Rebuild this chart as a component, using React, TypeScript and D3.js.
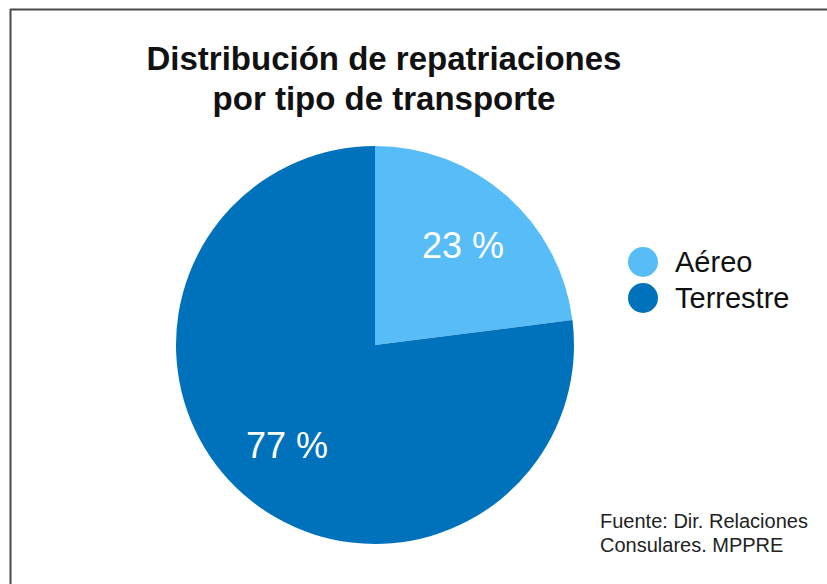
import React from "react";
import * as d3 from "d3";

const categories = ["Aéreo", "Terrestre"];
const values = [23, 77];
const labels = ["23 %", "77 %"];
const colors = ["#58BDF6", "#0072BC"];
const titleLines = ["Distribución de repatriaciones", "por tipo de transporte"];
const sourceLines = ["Fuente: Dir. Relaciones", "Consulares. MPPRE"];

const W = 827;
const H = 584;
const cx = 375;
const cy = 345;
const R = 199;

export default function App() {
  const data = categories.map((c, i) => ({ c, v: values[i], label: labels[i], color: colors[i] }));
  const pie = d3.pie<any>().sort(null).value((d) => d.v);
  const arcs = pie(data);
  const arc = d3.arc<any>().innerRadius(0).outerRadius(R);
  const labelArc = d3.arc<any>().innerRadius(133).outerRadius(133);
  const font = "'Liberation Sans', Arial, sans-serif";

  return (
    <svg
      width={W}
      height={H}
      viewBox={`0 0 ${W} ${H}`}
      style={{ position: "absolute", left: 0, top: 0, background: "#fff" }}
    >
      <rect x={0} y={0} width={W} height={H} fill="#fff" />
      <line x1={10.5} y1={9} x2={10.5} y2={H} stroke="#4a4a4a" strokeWidth={2} />
      <line x1={10} y1={9.5} x2={W} y2={9.5} stroke="#4a4a4a" strokeWidth={2} />
      {titleLines.map((t, i) => (
        <text
          key={t}
          x={384}
          y={70 + i * 40}
          textAnchor="middle"
          fontFamily={font}
          fontWeight="bold"
          fontSize={33}
          fill="#111"
        >
          {t}
        </text>
      ))}
      <g transform={`translate(${cx},${cy})`}>
        {arcs.map((a, i) => (
          <path key={i} d={arc(a) as string} fill={a.data.color} />
        ))}
        {arcs.map((a, i) => {
          const [x, y] = labelArc.centroid(a);
          return (
            <text
              key={"l" + i}
              x={x}
              y={y}
              dy="0.36em"
              textAnchor="middle"
              fontFamily={font}
              fontSize={36}
              fill="#fff"
            >
              {a.data.label}
            </text>
          );
        })}
      </g>
      {data.map((d, i) => (
        <g key={d.c} transform={`translate(643,${262 + i * 36})`}>
          <circle r={15} fill={d.color} />
          <text x={32} y={0} dy="0.36em" fontFamily={font} fontSize={29} fill="#111">
            {d.c}
          </text>
        </g>
      ))}
      {sourceLines.map((t, i) => (
        <text key={t} x={600} y={528 + i * 24} fontFamily={font} fontSize={20} fill="#222">
          {t}
        </text>
      ))}
    </svg>
  );
}
